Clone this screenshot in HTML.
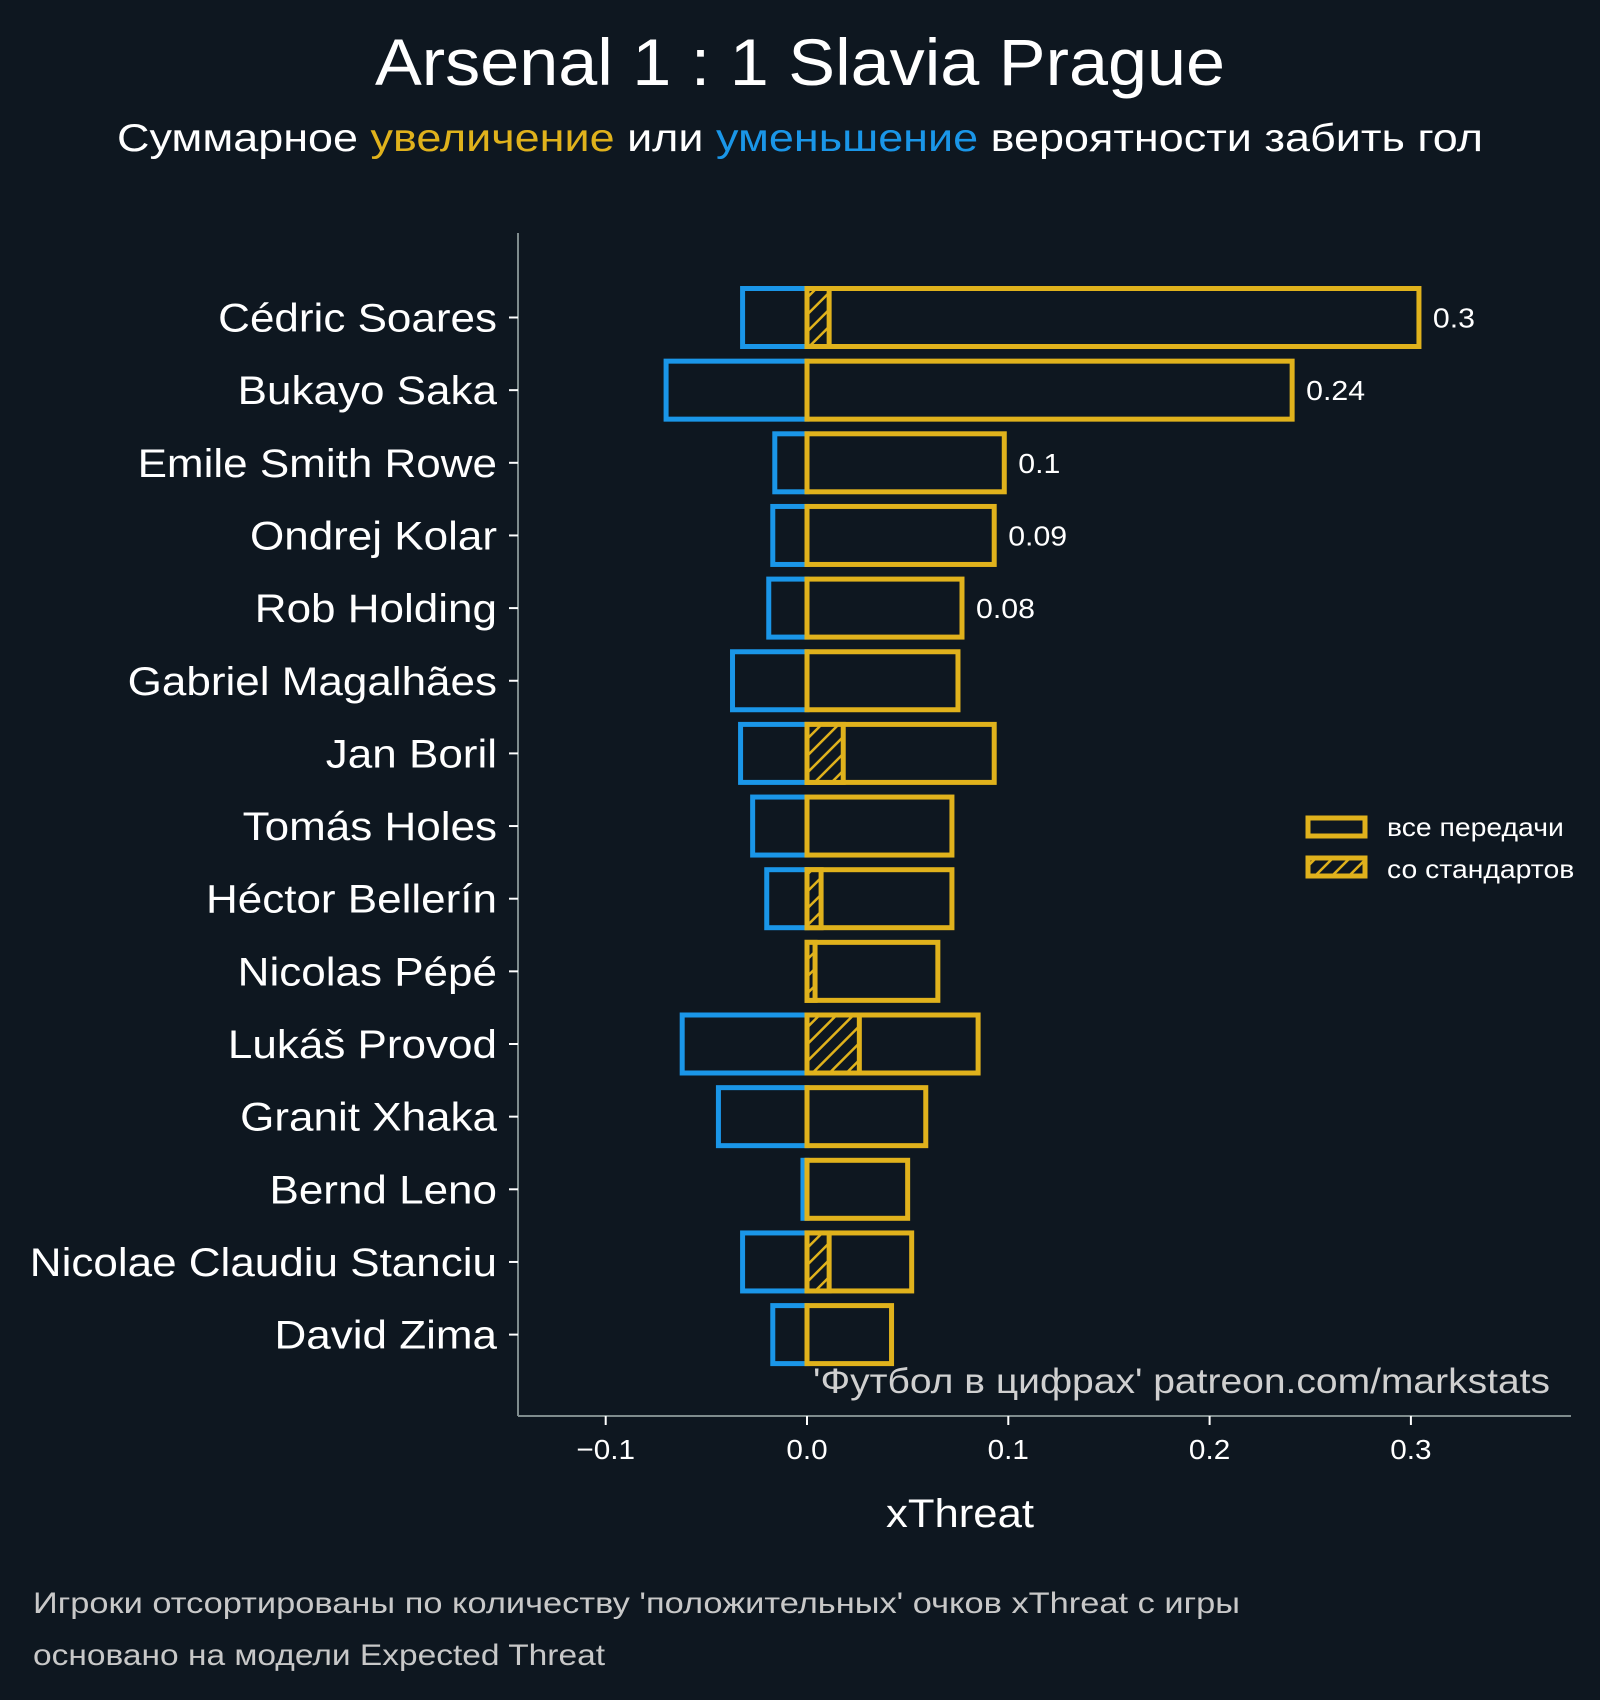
<!DOCTYPE html>
<html><head><meta charset="utf-8">
<style>
html,body{margin:0;padding:0;background:#0e1720;}
svg{display:block;font-family:"Liberation Sans",sans-serif;}
</style></head>
<body>
<svg id="chart" width="1600" height="1700" viewBox="0 0 1600 1700" xmlns="http://www.w3.org/2000/svg">
<defs>
<pattern id="hatch" patternUnits="userSpaceOnUse" width="12" height="12" patternTransform="rotate(45)">
<rect width="12" height="12" fill="#0e1720"/>
<line x1="0" y1="0" x2="0" y2="12" stroke="#e0b21c" stroke-width="5"/>
</pattern>
</defs>
<rect width="1600" height="1700" fill="#0e1720"/>
<text x="800" y="85" text-anchor="middle" fill="#fff" font-size="66" textLength="850" lengthAdjust="spacingAndGlyphs">Arsenal 1 : 1 Slavia Prague</text>
<text x="800" y="151" text-anchor="middle" fill="#fff" font-size="39" textLength="1366" lengthAdjust="spacingAndGlyphs">Суммарное <tspan fill="#e0b21c">увеличение</tspan> или <tspan fill="#1a96e8">уменьшение</tspan> вероятности забить гол</text>
<g id="plot"></g>
<text x="813" y="1393" fill="#d0d0d0" font-size="35" textLength="737" lengthAdjust="spacingAndGlyphs">'Футбол в цифрах' patreon.com/markstats</text>
<text x="960" y="1527" text-anchor="middle" fill="#fff" font-size="40" textLength="148" lengthAdjust="spacingAndGlyphs">xThreat</text>
<g>
<rect x="1308" y="818" width="57" height="18" fill="none" stroke="#e0b21c" stroke-width="5"/>
<text class="st" data-k="1.09" x="1387" y="836" fill="#fff" font-size="26">все передачи</text>
<rect x="1308" y="858" width="57" height="18" fill="url(#hatch)" stroke="#e0b21c" stroke-width="5"/>
<text class="st" data-k="1.09" x="1387" y="878" fill="#fff" font-size="26">со стандартов</text>
</g>
<text x="33" y="1613" fill="#c8c8c8" font-size="30" textLength="1207" lengthAdjust="spacingAndGlyphs">Игроки отсортированы по количеству 'положительных' очков xThreat с игры</text>
<text x="33" y="1665" fill="#c8c8c8" font-size="30" textLength="572" lengthAdjust="spacingAndGlyphs">основано на модели Expected Threat</text>
</svg>
<script>
const players = ["Cédric Soares","Bukayo Saka","Emile Smith Rowe","Ondrej Kolar","Rob Holding","Gabriel Magalhães","Jan Boril","Tomás Holes","Héctor Bellerín","Nicolas Pépé","Lukáš Provod","Granit Xhaka","Bernd Leno","Nicolae Claudiu Stanciu","David Zima"];
const positive = [0.304,0.241,0.098,0.093,0.077,0.075,0.093,0.072,0.072,0.065,0.085,0.059,0.050,0.052,0.042];
const negative = [-0.032,-0.070,-0.016,-0.017,-0.019,-0.037,-0.033,-0.027,-0.020,0,-0.062,-0.044,-0.002,-0.032,-0.017];
const setPiece = [0.011,0,0,0,0,0,0.018,0,0.007,0.004,0.026,0,0,0.011,0];
const valueLabels = ["0.3","0.24","0.1","0.09","0.08","","","","","","","","","",""];
const xTicks = [-0.1,0.0,0.1,0.2,0.3];
const xTickLabels = ["\u22120.1","0.0","0.1","0.2","0.3"];

const NS="http://www.w3.org/2000/svg";
const g=document.getElementById('plot');
const X0=807, XS=2013, Y0=317.5, YS=72.65, BH=58;
const AXL=518, AXB=1416, AXR=1571, AXT=233;
function xs(v){return X0+v*XS;}
function ys(i){return Y0+i*YS;}
function mk(tag,attrs,parent){const e=document.createElementNS(NS,tag);for(const k in attrs)e.setAttribute(k,attrs[k]);(parent||g).appendChild(e);return e;}

const ax=mk('line',{x1:AXL,y1:AXT,x2:AXL,y2:AXB,stroke:'#7f8c8d','stroke-width':2});


const bx=mk('line',{x1:AXL,y1:AXB,x2:AXR,y2:AXB,stroke:'#7f8c8d','stroke-width':2});



xTicks.forEach((t,i)=>{
  const tk=mk('line',{x1:xs(t),y1:AXB,x2:xs(t),y2:AXB+9,stroke:'#fff','stroke-width':2});
  
  
  const tl=mk('text',{x:xs(t),y:AXB+43,'text-anchor':'middle',fill:'#fff','font-size':28,'class':'st','data-k':1.06});
  tl.textContent=xTickLabels[i];
  
  
});

players.forEach((p,i)=>{
  const y=ys(i);
  const tk=mk('line',{x1:AXL-9,y1:y,x2:AXL,y2:y,stroke:'#fff','stroke-width':2});
  
  
  const lb=mk('text',{x:497,y:y+14,'text-anchor':'end',fill:'#fff','font-size':40,'class':'st','data-k':1.10});
  lb.textContent=p;
  
  
  if(negative[i]<0){
    const nb=mk('rect',{x:xs(negative[i]),y:y-BH/2,width:xs(0)-xs(negative[i]),height:BH,fill:'none',stroke:'#1a96e8','stroke-width':5});
    
    
  }
  const pb=mk('rect',{x:xs(0),y:y-BH/2,width:xs(positive[i])-xs(0),height:BH,fill:'none',stroke:'#e0b21c','stroke-width':5});
  
  
  if(setPiece[i]>0){
    const sb=mk('rect',{x:xs(0),y:y-BH/2,width:xs(setPiece[i])-xs(0),height:BH,fill:'url(#hatch)',stroke:'#e0b21c','stroke-width':5});
    
    
  }
  if(valueLabels[i]){
    const vl=mk('text',{x:xs(positive[i])+14,y:y+10,fill:'#fff','font-size':28,'class':'st','data-k':1.08});
    vl.textContent=valueLabels[i];
    
    
  }
});

document.querySelectorAll('text.st').forEach(t=>{
  const k=parseFloat(t.getAttribute('data-k'));
  const w=t.getComputedTextLength();
  if(w>0){t.setAttribute('textLength',(w*k).toFixed(1));t.setAttribute('lengthAdjust','spacingAndGlyphs');}
});
</script>
</body></html>
